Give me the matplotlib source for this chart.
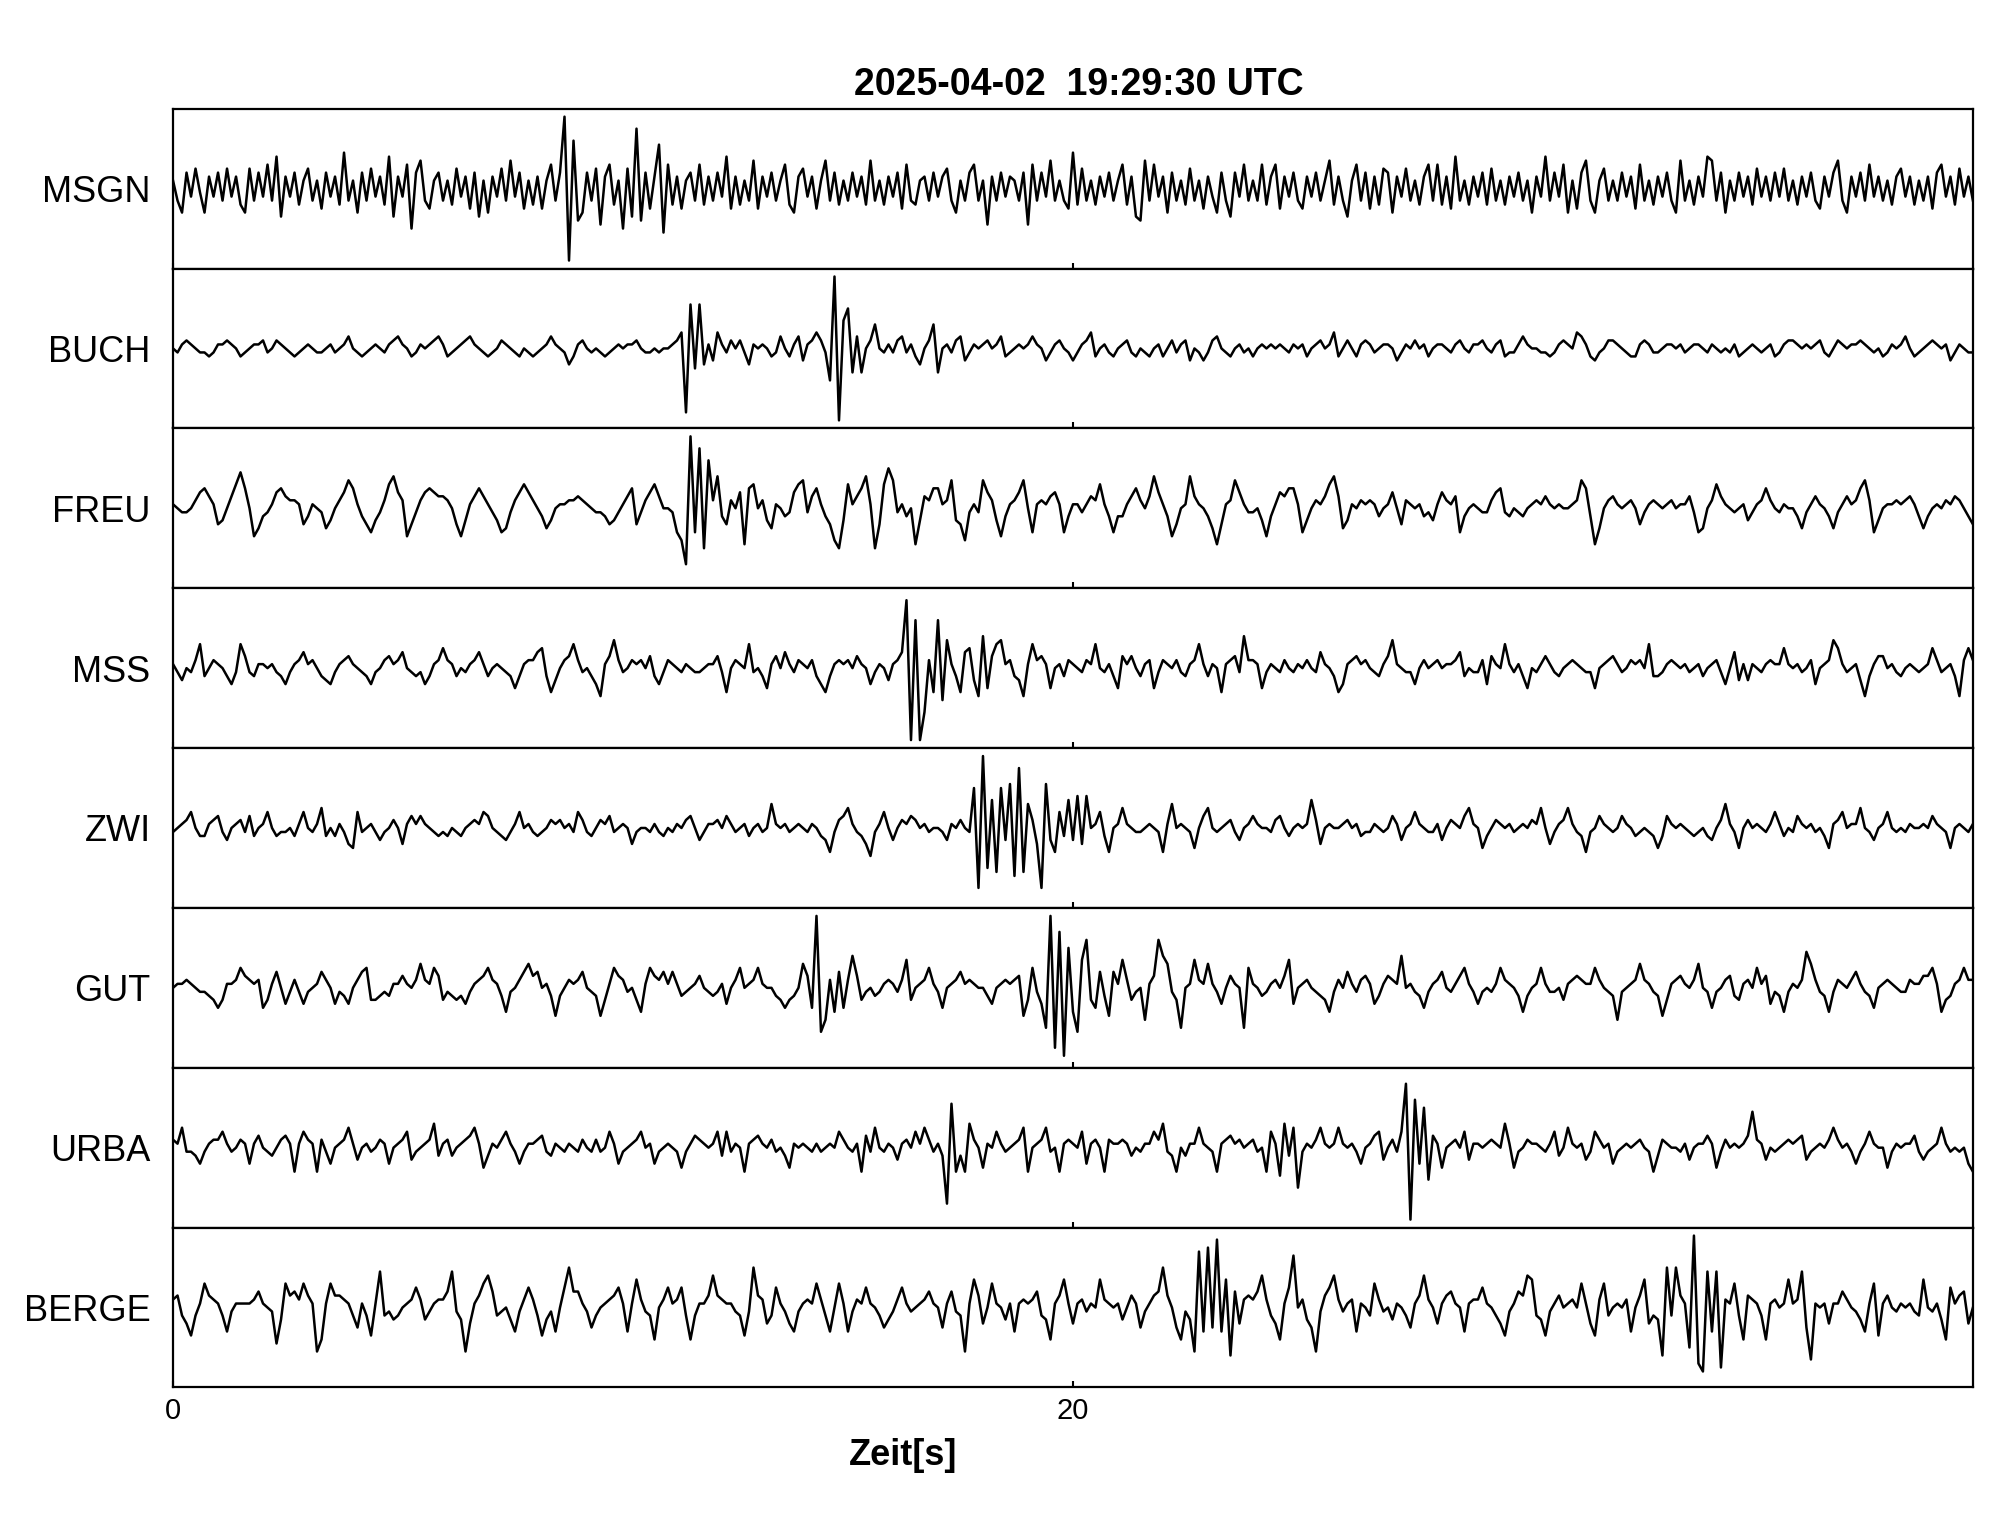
import matplotlib.pyplot as plt
import numpy as np

plt.rcParams['font.family'] = ['Liberation Sans', 'DejaVu Sans']

title = '2025-04-02  19:29:30 UTC'
stations = ['MSGN', 'BUCH', 'FREU', 'MSS', 'ZWI', 'GUT', 'URBA', 'BERGE']
dt = 0.1
xticks = [0, 20]

# amplitudes, +-20 = half panel height, one line per second
msgn = [2, -3, -6, 4, -2, 5, -1, -6, 3, -2,
        4, -3, 5, -2, 3, -4, -6, 5, -3, 4,
        -2, 6, -3, 8, -7, 3, -2, 4, -4, 2,
        5, -3, 2, -5, 4, -2, 3, -4, 9, -3,
        2, -6, 4, -3, 5, -2, 3, -4, 8, -7,
        3, -2, 6, -10, 4, 7, -3, -5, 2, 4,
        -3, 2, -4, 5, -2, 3, -5, 4, -7, 2,
        -6, 3, -2, 5, -3, 7, -2, 4, -5, 2,
        -4, 3, -5, 2, 6, -3, 4, 18, -18, 12,
        -8, -6, 4, -3, 5, -9, 3, 6, -4, 2,
        -10, 5, -7, 15, -8, 4, -5, 3, 11, -11,
        6, -4, 3, -5, 2, 4, -3, 6, -4, 3,
        -3, 4, -2, 8, -5, 3, -4, 2, -3, 7,
        -5, 3, -2, 4, -3, 2, 6, -4, -6, 3,
        5, -2, 3, -5, 2, 7, -3, 4, -4, 2,
        -3, 4, -2, 3, -4, 7, -3, 2, -4, 3,
        -2, 4, -5, 6, -3, -4, 2, 3, -3, 4,
        -2, 3, 5, -3, -6, 2, -3, 4, 6, -3,
        2, -9, 3, -3, 4, -2, 3, 2, -3, 4,
        -9, 6, -3, 4, -2, 7, -3, 2, -3, -5,
        9, -4, 5, -3, 2, -4, 3, -2, 4, -3,
        2, 6, -4, 3, -7, -8, 7, -3, 6, -2,
        3, -6, 4, -3, 2, -4, 5, -3, 2, -5,
        3, -2, -6, 4, -3, -7, 4, -2, 6, -3,
        2, -3, 6, -4, 3, 6, -5, 3, -2, 4,
        -3, -5, 3, -2, 4, -3, 2, 7, -4, 3,
        -3, -7, 2, 6, -3, 4, -5, 3, -4, 5,
        4, -6, 3, -2, 5, -3, 2, -4, 3, 6,
        -3, 6, -4, 3, -5, 8, -3, 2, -4, 3,
        -2, 4, -4, 5, -3, 2, -4, 3, -2, 4,
        -3, 2, -6, 3, -2, 8, -3, 4, -2, 6,
        -6, 2, -5, 4, 7, -3, -6, 2, 5, -3,
        2, -3, 4, -2, 3, -5, 6, -3, 2, -4,
        3, -2, 4, -3, -6, 7, -3, 2, -4, 3,
        -2, 8, 7, -3, 4, -6, 2, -3, 4, -2,
        3, -4, 5, -2, 3, -3, 4, -2, 5, -3,
        2, -4, 3, -2, 4, -3, -5, 3, -2, 4,
        7, -3, -6, 3, -2, 4, -3, 6, -2, 3,
        -3, 2, -4, 3, 5, -2, 3, -4, 2, -3,
        3, -5, 4, 6, -2, 3, -4, 5, -2, 3,
        -3]

buch = [0, -1, 1, 2, 1, 0, -1, -1, -2, -1,
        1, 1, 2, 1, 0, -2, -1, 0, 1, 1,
        2, -1, 0, 2, 1, 0, -1, -2, -1, 0,
        1, 0, -1, -1, 0, 1, -1, 0, 1, 3,
        0, -1, -2, -1, 0, 1, 0, -1, 1, 2,
        3, 1, 0, -2, -1, 1, 0, 1, 2, 3,
        1, -2, -1, 0, 1, 2, 3, 1, 0, -1,
        -2, -1, 0, 2, 1, 0, -1, -2, 0, -1,
        -2, -1, 0, 1, 3, 1, 0, -1, -4, -2,
        1, 2, 0, -1, 0, -1, -2, -1, 0, 1,
        0, 1, 1, 2, 0, -1, -1, 0, -1, 0,
        0, 1, 2, 4, -16, 11, -5, 11, -4, 1,
        -3, 4, 1, -1, 2, 0, 2, -1, -4, 1,
        0, 1, 0, -2, -1, 3, 0, -2, 1, 3,
        -3, 1, 2, 4, 2, -1, -8, 18, -18, 7,
        10, -6, 3, -6, 0, 2, 6, 0, -1, 1,
        -1, 2, 3, -1, 1, -2, -4, 0, 2, 6,
        -6, 0, 1, -1, 2, 3, -3, -1, 1, 0,
        1, 2, 0, 1, 3, -2, -1, 0, 1, 0,
        1, 3, 1, 0, -3, -1, 1, 2, 0, -1,
        -3, -1, 1, 2, 4, -2, 0, 1, -1, -2,
        0, 1, 2, -1, -2, 0, -1, -2, 0, 1,
        -2, 0, 2, -1, 1, 2, -3, 0, -1, -3,
        -1, 2, 3, 0, -1, -2, 0, 1, -1, 0,
        -2, 0, 1, 0, 1, 0, 1, 0, -1, 1,
        0, 1, -2, 0, 1, 2, 0, 1, 4, -2,
        0, 2, 0, -2, 1, 2, 1, -1, 0, 1,
        1, 0, -3, -1, 1, 0, 2, 0, 1, -2,
        0, 1, 1, 0, -1, 1, 2, 0, -1, 1,
        1, 2, 0, -1, 1, 2, -2, -1, -1, 1,
        3, 1, 0, 0, -1, -1, -2, -1, 1, 2,
        1, 0, 4, 3, 1, -2, -3, -1, 0, 2,
        2, 1, 0, -1, -2, -2, 1, 2, 1, -1,
        -1, 0, 1, 1, 0, 1, -1, 0, 1, 1,
        0, -1, 1, 0, -1, 0, -1, 1, -2, -1,
        0, 1, 0, -1, 0, 1, -2, -1, 1, 2,
        2, 1, 0, 1, 0, 1, 2, -1, -2, 0,
        2, 1, 0, 1, 1, 2, 1, 0, -1, 0,
        -2, -1, 1, 0, 1, 3, 0, -2, -1, 0,
        1, 2, 1, 0, 1, -3, -1, 1, 0, -1,
        -1]

freu = [1, 0, -1, -1, 0, 2, 4, 5, 3, 1,
        -4, -3, 0, 3, 6, 9, 5, 0, -7, -5,
        -2, -1, 1, 4, 5, 3, 2, 2, 1, -4,
        -2, 1, 0, -1, -5, -3, 0, 2, 4, 7,
        5, 1, -2, -4, -6, -3, -1, 2, 6, 8,
        4, 2, -7, -4, -1, 2, 4, 5, 4, 3,
        3, 2, 0, -4, -7, -3, 1, 3, 5, 3,
        1, -1, -3, -6, -5, -1, 2, 4, 6, 4,
        2, 0, -2, -5, -3, 0, 1, 1, 2, 2,
        3, 2, 1, 0, -1, -1, -2, -4, -3, -1,
        1, 3, 5, -4, -1, 2, 4, 6, 3, 0,
        0, -1, -6, -8, -14, 18, -6, 15, -10, 12,
        2, 8, -2, -4, 2, 0, 4, -9, 5, 6,
        0, 2, -3, -5, 1, 0, -2, -1, 4, 6,
        7, -1, 3, 5, 1, -2, -4, -8, -10, -3,
        6, 1, 3, 5, 8, 1, -10, -4, 6, 10,
        7, -1, 1, -2, 0, -9, -3, 3, 2, 5,
        5, 1, 2, 7, -3, -4, -8, -1, 1, -1,
        7, 4, 2, -3, -7, -2, 1, 2, 4, 7,
        0, -6, 1, 2, 1, 3, 4, 1, -6, -2,
        1, 1, -1, 1, 3, 2, 6, 1, -2, -6,
        -2, -2, 1, 3, 5, 2, 0, 3, 8, 4,
        1, -2, -7, -4, 0, 1, 8, 3, 1, 0,
        -2, -5, -9, -4, 1, 2, 7, 4, 1, -1,
        -1, 0, -3, -7, -2, 1, 4, 3, 5, 5,
        1, -6, -3, 0, 2, 1, 3, 6, 8, 3,
        -5, -3, 1, 0, 2, 1, 2, 1, -2, 0,
        1, 4, 0, -4, 2, 1, 0, 1, -2, -1,
        -3, 1, 4, 2, 1, 3, -6, -2, 0, 1,
        0, -1, -1, 2, 4, 5, -1, -2, 0, -1,
        -2, 0, 1, 2, 1, 3, 1, 0, 1, 0,
        0, 1, 2, 7, 5, -2, -9, -5, 0, 2,
        3, 1, 0, 1, 2, 0, -4, -1, 1, 2,
        1, 0, 1, 2, 0, 1, 1, 3, -1, -6,
        -5, 0, 2, 6, 3, 1, 0, -1, 0, 1,
        -3, -1, 1, 2, 5, 2, 0, -1, 1, 0,
        0, -2, -5, -1, 1, 3, 1, 0, -2, -5,
        -1, 1, 3, 1, 2, 5, 7, 2, -6, -3,
        0, 1, 1, 2, 1, 2, 3, 1, -2, -5,
        -2, 0, 1, 0, 2, 1, 3, 2, 0, -2,
        -4]

mss = [1, -1, -3, 0, -1, 2, 6, -2, 0, 2,
       1, 0, -2, -4, -1, 6, 3, -1, -2, 1,
       1, 0, 1, -1, -2, -4, -1, 1, 2, 4,
       1, 2, 0, -2, -3, -4, -1, 1, 2, 3,
       1, 0, -1, -2, -4, -1, 0, 2, 3, 1,
       2, 4, 0, -1, -2, -1, -4, -2, 1, 2,
       5, 2, 1, -2, 0, -1, 1, 2, 4, 1,
       -2, 0, 1, 0, -1, -2, -5, -2, 1, 2,
       2, 4, 5, -2, -6, -3, 0, 2, 3, 6,
       2, -1, 0, -2, -4, -7, 1, 3, 7, 2,
       -1, 0, 2, 1, 2, 0, 3, -2, -4, -1,
       2, 1, 0, -1, 1, 0, -1, -1, 0, 1,
       1, 3, -1, -6, 0, 2, 1, 0, 6, -1,
       0, -2, -5, 1, 3, 0, 4, 1, -1, 2,
       1, 0, 2, -2, -4, -6, -2, 1, 2, 1,
       2, 0, 3, 1, 0, -4, -1, 1, 0, -3,
       1, 2, 4, 17, -18, 12, -18, -11, 2, -6,
       12, -8, 7, 1, -2, -6, 4, 5, -3, -7,
       8, -5, 3, 6, 7, 1, 2, -2, -3, -7,
       1, 6, 2, 3, 1, -5, 0, 1, -2, 2,
       1, 0, -1, 2, 1, 6, 0, -1, 1, -2,
       -5, 3, 1, 3, 0, -2, 1, 2, -5, -1,
       2, 1, 0, 2, -1, -2, 1, 2, 6, 1,
       -2, 1, 0, -6, 1, 2, 3, -1, 8, 2,
       2, 1, -5, -1, 1, 0, -1, 2, 0, -1,
       1, 0, 2, 0, -1, 4, 1, 0, -2, -6,
       -4, 1, 2, 3, 1, 2, 0, -1, -2, 1,
       3, 7, 1, 0, -1, -1, -4, 0, 2, 0,
       1, 2, 0, 1, 1, 2, 4, -2, 0, -1,
       -1, 2, -4, 3, 1, 0, 6, 1, -1, 1,
       -2, -5, 0, -1, 1, 3, 1, -1, -2, 0,
       1, 2, 1, 0, -1, -1, -5, 0, 1, 2,
       3, 1, -1, 0, 2, 1, 2, 0, 6, -2,
       -2, -1, 1, 2, 1, 0, 1, -1, 0, 1,
       -2, 0, 1, 2, -1, -4, 0, 4, -3, 1,
       -3, 1, 0, -1, 1, 2, 1, 1, 5, 1,
       0, 1, -1, 0, 2, -4, 0, 1, 2, 7,
       5, 1, -1, 0, 1, -3, -7, -2, 1, 3,
       3, 0, 1, -1, -2, 0, 1, 0, -1, 0,
       1, 5, 2, -1, 0, 1, -2, -7, 2, 5,
       2]

zwi = [-1, 0, 1, 2, 4, 0, -2, -2, 1, 2,
       3, -1, -3, 0, 1, 2, -1, 3, -2, 0,
       1, 4, 0, -2, -1, -1, 0, -2, 1, 4,
       0, -1, 1, 5, -2, 0, -2, 1, -1, -4,
       -5, 4, -1, 0, 1, -1, -3, -1, 0, 2,
       0, -4, 1, 3, 1, 3, 1, 0, -1, -2,
       -1, -2, 0, -1, -2, 0, 1, 2, 1, 4,
       3, 0, -1, -2, -3, -1, 1, 4, 0, 1,
       -1, -2, -1, 0, 2, 1, 2, 0, 1, -1,
       4, 2, -1, -2, 0, 2, 1, 3, -1, 0,
       1, 0, -4, -1, 0, 0, -1, 1, -1, -2,
       0, -1, 1, 0, 2, 3, 0, -3, -1, 1,
       1, 2, 0, 3, 1, -1, 0, 1, -2, 0,
       1, -1, 0, 6, 1, 0, 1, -1, 0, 1,
       0, -1, 1, 0, -2, -3, -6, -1, 2, 3,
       5, 1, -1, -2, -4, -7, -1, 1, 4, 0,
       -3, 0, 2, 1, 3, 2, 0, 1, -1, 0,
       0, -1, -3, 1, 0, 2, 0, -1, 10, -15,
       18, -10, 7, -11, 10, -3, 11, -12, 15, -11,
       6, 2, -4, -15, 11, -3, -6, 4, -2, 7,
       -3, 8, -4, 8, 0, 1, 4, -2, -6, 0,
       1, 5, 1, 0, -1, -1, 0, 1, 0, -1,
       -6, 1, 6, 0, 1, 0, -1, -5, 0, 3,
       5, 0, -1, 0, 1, 2, -1, -3, 0, 1,
       3, 1, 0, 0, -1, 2, 3, 0, -2, 0,
       1, 0, 1, 7, 2, -4, 0, 1, 0, 0,
       1, 2, 0, 1, -2, -1, -1, 1, 0, -1,
       0, 3, 1, -3, 0, 1, 4, 1, 0, -1,
       -1, 1, -3, 0, 2, 1, 0, 3, 5, 1,
       0, -5, -2, 0, 2, 1, 0, 1, -1, 0,
       1, 0, 2, 1, 5, 0, -4, -1, 1, 2,
       5, 1, -1, -2, -6, -1, 0, 3, 1, 0,
       -1, 0, 3, 1, 0, -2, -1, 0, -1, -2,
       -5, -2, 3, 1, 0, 1, 0, -1, -2, -1,
       0, -2, -3, 0, 2, 6, 1, -1, -5, 0,
       2, 0, 1, 0, -1, 1, 4, 1, -2, 0,
       -1, 3, 1, 0, 1, -1, 0, -2, -5, 1,
       2, 4, 0, 1, 1, 5, 0, -1, -3, 0,
       1, 4, 0, -1, 0, -1, 1, 0, 0, 1,
       0, 3, 1, 0, -1, -5, 0, 1, 0, -1,
       1]

gut = [0, 1, 1, 2, 1, 0, -1, -1, -2, -3,
       -5, -3, 1, 1, 2, 5, 3, 2, 1, 2,
       -5, -3, 1, 4, 0, -4, -1, 2, -1, -4,
       -1, 0, 1, 4, 2, 0, -4, -1, -2, -4,
       0, 2, 4, 5, -3, -3, -2, -1, -2, 1,
       1, 3, 1, 0, 2, 6, 2, 1, 5, 3,
       -3, -1, -2, -3, -2, -4, -1, 1, 2, 3,
       5, 2, 1, -2, -6, -1, 0, 2, 4, 6,
       3, 4, 0, 1, -2, -7, -2, 0, 2, 1,
       2, 4, 0, -1, -2, -7, -3, 1, 5, 3,
       2, -1, 0, -3, -6, 1, 5, 3, 2, 4,
       1, 4, 1, -2, -1, 0, 1, 3, 0, -1,
       -2, -1, 1, -4, 0, 2, 5, 0, 1, 2,
       5, 1, 0, 0, -2, -3, -5, -3, -2, 0,
       6, 3, -5, 18, -11, -8, 2, -6, 4, -5,
       2, 8, 3, -3, -1, 0, -2, -1, 1, 2,
       1, -1, 2, 7, -3, 0, 1, 2, 5, 1,
       -1, -5, 0, 1, 2, 4, 1, 2, 1, 0,
       0, -2, -4, 0, 1, 2, 1, 2, 3, -7,
       -3, 5, -1, -4, -10, 18, -15, 14, -17, 10,
       -6, -11, 7, 12, -3, -5, 4, -2, -7, 4,
       1, 7, 2, -3, -1, 0, -8, 1, 3, 12,
       8, 6, -1, -3, -10, 0, 1, 7, 2, 1,
       6, 1, -1, -4, 0, 3, 1, 0, -10, 5,
       1, 0, -2, -1, 1, 2, 0, 3, 7, -4,
       0, 1, 2, 0, -1, -2, -3, -6, -1, 2,
       0, 4, 1, -1, 2, 3, 1, -4, -2, 1,
       3, 2, 1, 8, 0, 1, -1, -2, -5, -1,
       1, 2, 4, 0, -1, 1, 3, 5, 1, -1,
       -4, -1, 0, -1, 1, 5, 2, 1, 0, -2,
       -6, -2, 0, 1, 5, 1, -1, -1, 0, -3,
       1, 2, 3, 2, 1, 1, 5, 2, 0, -1,
       -2, -8, -1, 0, 1, 2, 6, 2, 1, -1,
       -2, -7, -3, 1, 2, 3, 1, 0, 2, 6,
       0, -1, -5, -1, 0, 2, 3, -2, -3, 1,
       2, 0, 5, 1, 3, -4, -1, -2, -6, -1,
       1, 0, 2, 9, 6, 2, -1, -2, -6, -1,
       2, 1, 0, 2, 4, 1, -1, -2, -5, 0,
       1, 2, 1, 0, -1, -1, 2, 1, 1, 3,
       3, 5, 1, -6, -3, -2, 1, 2, 5, 2,
       2]

urba = [2, 1, 5, -1, -1, -2, -4, -1, 1, 2,
        2, 4, 1, -1, 0, 2, 1, -4, 1, 3,
        0, -1, -2, 0, 2, 3, 1, -6, 1, 4,
        2, 1, -6, 2, -1, -4, 0, 1, 2, 5,
        1, -3, 0, 1, -1, 0, 2, 1, -4, 0,
        1, 2, 4, -3, -1, 0, 1, 2, 6, -2,
        1, 2, -2, 0, 1, 2, 3, 5, 1, -5,
        -2, 1, 0, 2, 4, 1, -1, -4, -1, 1,
        1, 2, 3, -1, -2, 1, 0, -1, 1, 0,
        -1, 2, 0, -1, 2, -1, 0, 4, 1, -4,
        -1, 0, 1, 2, 4, 0, 1, -4, -1, 0,
        1, 0, -1, -5, -1, 1, 3, 2, 1, 0,
        1, 4, -2, 4, -1, 1, 0, -6, 1, 2,
        3, 1, 0, 2, -1, 0, -2, -5, 1, 0,
        1, 0, -1, 1, -1, 0, 1, 0, 4, 2,
        0, -1, 1, -6, 3, -1, 5, 0, -1, 1,
        0, -3, 1, 2, 0, 4, 1, 5, 2, -1,
        1, -2, -14, 11, -6, -2, -6, 6, 2, 0,
        -5, 1, 0, 4, 1, -1, 0, 1, 2, 5,
        -6, 0, 1, 2, 5, -1, 0, -6, 1, 2,
        1, 0, 4, -4, 1, 2, 0, -6, 2, 1,
        1, 2, 1, -2, 0, -1, 1, 1, 4, 2,
        6, -1, -2, -6, 0, -2, 1, 1, 5, 1,
        0, -1, -6, 1, 2, 3, 1, 2, 0, 1,
        2, -1, 0, -6, 4, 1, -7, 6, -2, 5,
        -10, -1, 1, 0, 2, 5, 1, 0, 1, 5,
        1, 0, 1, -1, -4, 0, 1, 3, 4, -3,
        0, 2, -1, 4, 16, -18, 12, -4, 10, -8,
        3, 1, -5, 0, 1, 2, 0, 4, -3, 1,
        1, 0, 1, 2, 1, 0, 6, 1, -5, -1,
        0, 2, 1, 1, 0, -1, 1, 4, -2, 0,
        5, 1, 0, 1, -3, -1, 4, 2, 0, 1,
        -4, -1, 0, 1, 0, 1, 2, 0, -1, -6,
        -2, 2, 1, 0, 0, -1, 1, -3, 0, 1,
        1, 3, 1, -5, -1, 2, 0, 1, 0, 1,
        3, 9, 2, 1, -3, 0, -1, 0, 1, 2,
        1, 2, 3, -3, -1, 0, 1, 0, 2, 5,
        2, 0, 1, -1, -4, -1, 1, 4, 1, 0,
        0, -5, -1, 1, 0, 1, 1, 3, -1, -3,
        -1, 0, 1, 5, 1, -1, 0, -1, 0, -4,
        -6]

berge = [2, 3, -2, -4, -7, -2, 1, 6, 3, 2,
         1, -2, -6, -1, 1, 1, 1, 1, 2, 4,
         1, 0, -1, -9, -3, 6, 3, 4, 2, 6,
         3, 1, -11, -8, 1, 6, 3, 3, 2, 1,
         -2, -5, 1, -2, -7, 1, 9, -2, -1, -3,
         -2, 0, 1, 2, 5, 2, -3, -1, 1, 2,
         2, 4, 9, -1, -3, -11, -4, 1, 3, 6,
         8, 4, -2, -1, 0, -3, -6, -1, 2, 5,
         2, -2, -7, -3, -1, -6, 0, 5, 10, 4,
         4, 1, -1, -5, -2, 0, 1, 2, 3, 5,
         1, -6, 1, 7, 2, -1, -2, -8, 0, 2,
         5, 1, 2, 5, -2, -8, -2, 1, 1, 3,
         8, 3, 2, 1, 1, -1, -2, -7, -1, 10,
         3, 2, -4, -2, 5, 1, -1, -4, -6, -1,
         1, 2, 1, 6, 2, -2, -6, 0, 6, 1,
         -6, -1, 2, 1, 5, 1, 0, -2, -5, -3,
         -1, 2, 5, 1, -1, 0, 1, 2, 4, 1,
         0, -5, 1, 4, -1, -2, -11, 1, 7, 3,
         -4, 0, 6, 1, 0, -3, 1, -6, 1, 2,
         1, 2, 4, -2, -3, -8, 1, 3, 7, 1,
         -4, 1, 2, -1, 1, 0, 7, 2, 1, 0,
         1, -3, 0, 3, 1, -5, -1, 1, 3, 4,
         10, 3, 0, -5, -8, -1, -3, -11, 14, -6,
         15, -5, 17, -6, 7, -12, 4, -4, 2, 3,
         2, 4, 8, 2, -2, -4, -8, 1, 5, 13,
         0, 2, -3, -5, -11, -1, 3, 5, 8, 2,
         -1, 1, 2, -6, 1, 0, -2, 6, 2, -1,
         0, -3, 1, 0, -2, -5, 1, 3, 8, 2,
         0, -4, 1, 3, 4, 1, 0, -6, 1, 2,
         2, 5, 1, 0, -2, -4, -7, -1, 1, 4,
         3, 8, 7, -2, -3, -7, -1, 1, 3, 0,
         1, 2, 0, 6, 1, -4, -7, 2, 6, -2,
         0, 1, 0, 2, -6, 0, 3, 7, -4, -2,
         -3, -12, 10, -2, 10, 3, 1, -10, 18, -14,
         -16, 9, -6, 9, -15, 2, 1, 6, -2, -8,
         3, 2, 1, -2, -8, 1, 2, 0, 1, 7,
         1, 2, 9, -5, -13, 1, 0, 1, -4, 1,
         1, 4, 2, 0, -1, -3, -6, 1, 6, -7,
         1, 3, 0, -1, 1, 0, 1, -1, -2, 7,
         0, -1, 1, -3, -8, 5, 1, 3, 4, -4,
         0]

traces = [msgn, buch, freu, mss, zwi, gut, urba, berge]

fig = plt.figure(figsize=(20.05, 15.22), dpi=100)
left, right, top, bottom = 0.0863, 0.984, 0.9286, 0.0884
h = (top - bottom) / len(stations)

for i, (name, tr) in enumerate(zip(stations, traces)):
    ax = fig.add_axes([left, top - (i + 1) * h, right - left, h])
    t = np.arange(len(tr)) * dt
    ax.plot(t, tr, color='black', lw=1.8)
    ax.set_xlim(0, 40)
    ax.set_ylim(-20, 20)
    ax.set_yticks([])
    ax.set_xticks(xticks)
    ax.tick_params(axis='x', direction='in', length=4, width=1.5,
                   labelsize=21, pad=7)
    if i < len(stations) - 1:
        ax.tick_params(labelbottom=False)
    for s in ax.spines.values():
        s.set_linewidth(1.6)
    ax.text(-0.0125, 0.475, name, transform=ax.transAxes,
            ha='right', va='center', fontsize=26)

fig.text(0.538, 0.944, title, ha='center', va='center',
         fontsize=27, fontweight='bold')
fig.text(0.4504, 0.044, 'Zeit[s]', ha='center', va='center',
         fontsize=26, fontweight='bold')

fig.savefig('out.png', dpi=100)
